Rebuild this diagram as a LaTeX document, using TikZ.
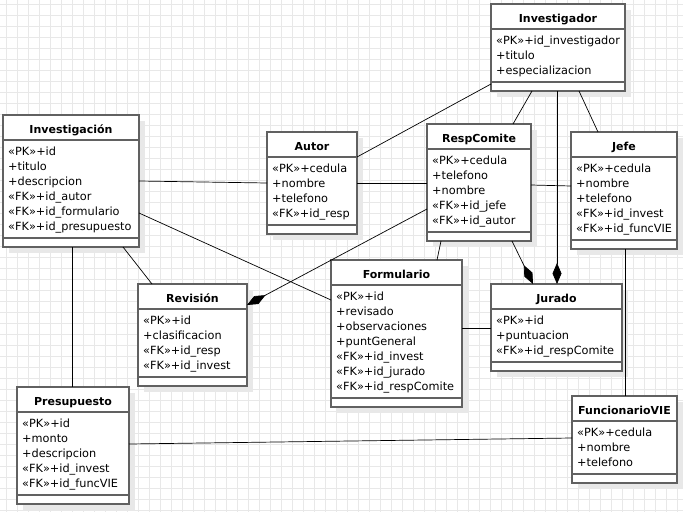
\documentclass[tikz,border=0pt]{standalone}
\usepackage{fontspec}
\setmainfont{DejaVu Sans}
\usetikzlibrary{arrows.meta}

\tikzset{
  gridline/.style={draw=black!9, line width=0.5pt},
  shadowfill/.style={fill=black!9},
  classbox/.style={draw=black!62, fill=white, line width=1.3pt, inner sep=0pt, outer sep=0pt},
  classline/.style={draw=black!62, line width=1.3pt},
  titletext/.style={font=\fontsize{11}{13}\selectfont\bfseries, inner sep=0pt},
  attrtext/.style={font=\fontsize{11.3}{15}\selectfont, inner sep=0pt},
  assoc/.style={draw=black, line width=0.7pt},
  compo/.style={assoc, -{Diamond[length=21pt,width=9pt,fill=black]}},
}

% UML class: name, left, top, right, number of attributes, title, attributes
\newcommand\umlclass[7]{%
  \pgfmathsetmacro\clsbot{#3+42+15*#5}%
  \pgfmathsetmacro\clssepa{#3+25}%
  \pgfmathsetmacro\clssepb{#3+33+15*#5}%
  \fill[shadowfill] (#2+6,#3+6) rectangle (#4+6,\clsbot+6);
  \node[classbox, minimum width={#4-#2}, minimum height={\clsbot-#3}, anchor=north west] (#1) at (#2,#3) {};
  \draw[classline] (#2,\clssepa) -- (#4,\clssepa);
  \draw[classline] (#2,\clssepb) -- (#4,\clssepb);
  \node[titletext, anchor=base] at ({(#2+#4)/2},#3+18) {#6};
  \foreach \attr [count=\k] in {#7}
    \node[attrtext, anchor=base west] at (#2+5,{#3+25+15*\k}) {\attr};
}

\begin{document}
\begin{tikzpicture}[x=1pt,y=-1pt]
  % page and grid
  \fill[white] (0,0) rectangle (683,512);
  \useasboundingbox (0,0) rectangle (683,512);
  \foreach \gx in {6,17,...,683} \draw[gridline] (\gx,0) -- (\gx,512);
  \foreach \gy in {4,15,...,512} \draw[gridline] (0,\gy) -- (683,\gy);

  % classes
  \umlclass{invr}{491}{4}{625}{3}{Investigador}
    {«PK»+id\_investigador, +titulo, +especializacion}
  \umlclass{inv}{3}{115}{139}{6}{Investigación}
    {«PK»+id, +titulo, +descripcion, «FK»+id\_autor, «FK»+id\_formulario, «FK»+id\_presupuesto}
  \umlclass{autor}{267}{132}{357}{4}{Autor}
    {«PK»+cedula, +nombre, +telefono, «FK»+id\_resp}
  \umlclass{resp}{427}{124}{531}{5}{RespComite}
    {«PK»+cedula, +telefono, +nombre, «FK»+id\_jefe, «FK»+id\_autor}
  \umlclass{jefe}{571}{132}{677}{5}{Jefe}
    {«PK»+cedula, +nombre, +telefono, «FK»+id\_invest, «FK»+id\_funcVIE}
  \umlclass{form}{331}{260}{462}{7}{Formulario}
    {«PK»+id, +revisado, +observaciones, +puntGeneral, «FK»+id\_invest, «FK»+id\_jurado, «FK»+id\_respComite}
  \umlclass{rev}{138}{284}{247}{4}{Revisión}
    {«PK»+id, +clasificacion, «FK»+id\_resp, «FK»+id\_invest}
  \umlclass{jur}{491}{284}{622}{3}{Jurado}
    {«PK»+id, +puntuacion, «FK»+id\_respComite}
  \umlclass{pres}{17}{387}{129}{5}{Presupuesto}
    {«PK»+id, +monto, +descripcion, «FK»+id\_invest, «FK»+id\_funcVIE}
  \umlclass{func}{572}{396}{677}{3}{FuncionarioVIE}
    {«PK»+cedula, +nombre, +telefono}

  % associations
  \draw[assoc] (invr.west |- 0,84) -- (autor.east |- 0,157);
  \draw[assoc] (invr.south -| 532,0) -- (resp.north -| 513,0);
  \draw[assoc] (invr.south -| 579,0) -- (jefe.north -| 598,0);
  \draw[assoc] (resp.east |- 0,185) -- (jefe.west |- 0,186);
  \draw[assoc] (autor.east |- 0,183) -- (resp.west |- 0,183);
  \draw[assoc] (inv.east |- 0,181) -- (autor.west |- 0,183);
  \draw[assoc] (inv.east |- 0,213) -- (form.west |- 0,300);
  \draw[assoc] (inv.south -| 123,0) -- (rev.north -| 152,0);
  \draw[assoc] (inv.south -| 72,0) -- (pres.north -| 72,0);
  \draw[assoc] (pres.east |- 0,444) -- (func.west |- 0,438);
  \draw[assoc] (form.east |- 0,328) -- (jur.west |- 0,328);
  \draw[assoc] (jefe.south -| 625,0) -- (func.north -| 625,0);
  \draw[assoc] (resp.south -| 441,0) -- (form.north -| 437,0);

  % compositions
  \draw[compo] (invr.south -| 557,0) -- (jur.north -| 557,0);
  \draw[compo] (resp.south -| 512,0) -- (jur.north -| 533,0);
  \draw[compo] (resp.west |- 0,209) -- (rev.east |- 0,305);
\end{tikzpicture}
\end{document}
